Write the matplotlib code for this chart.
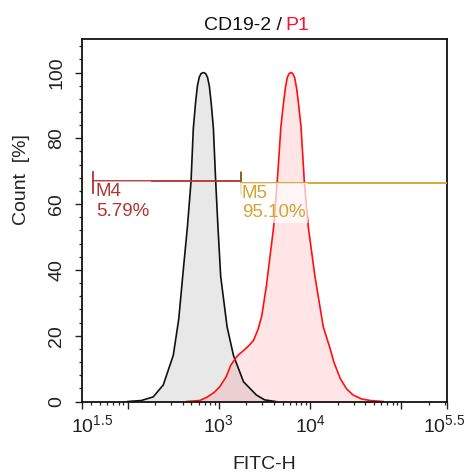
import numpy as np
import matplotlib
matplotlib.use("Agg")
import matplotlib.pyplot as plt
from matplotlib.ticker import FixedLocator, NullFormatter
import matplotlib.transforms as mtransforms

plt.rcParams['font.family'] = ['Liberation Sans', 'DejaVu Sans']
plt.rcParams['mathtext.fontset'] = 'custom'
plt.rcParams['mathtext.rm'] = 'Liberation Sans'
plt.rcParams['mathtext.it'] = 'Liberation Sans'
plt.rcParams['mathtext.bf'] = 'Liberation Sans'

# ---- data (log10 of FITC-H, count %) ----
gray_log10 = [2.00, 2.15, 2.28, 2.39, 2.50, 2.56, 2.61, 2.655, 2.695, 2.72, 2.745, 2.765,
              2.785, 2.805, 2.83, 2.855, 2.875, 2.895, 2.915, 2.94,
              2.965, 2.99, 3.02, 3.09, 3.16, 3.27, 3.41, 3.50, 3.62]
gray_count = [0, 0.3, 1.4, 5, 14, 25, 40, 53, 67, 83, 91, 96,
              98.6, 99.7, 100, 99.7, 98.6, 96, 91, 83,
              67, 53, 38, 22.7, 14, 6, 2, 0.5, 0]

red_log10 = [2.65, 2.79, 2.87, 2.95, 3.01, 3.08, 3.13, 3.20, 3.27, 3.33, 3.38, 3.43, 3.47,
             3.52, 3.56, 3.60, 3.64, 3.68, 3.705, 3.73, 3.75, 3.77, 3.79, 3.81, 3.83,
             3.853, 3.875, 3.90, 3.936,
             3.98, 4.053, 4.144, 4.22, 4.26, 4.33, 4.40, 4.47, 4.56, 4.66, 4.80]
red_count = [0, 0.3, 1.3, 2.8, 4.5, 7.5, 11, 13.8, 15.5, 17, 18.6, 22, 26,
             35, 44, 53, 67, 83.6, 90, 95.5, 98.5, 99.7, 100, 99.7, 98.5,
             95, 90, 83.6, 67,
             53, 38, 22.7, 16, 12, 7, 3.8, 2, 0.8, 0.3, 0]

m4_range = [42, 1750]
m4_level = 67.0
m4_label = "M4\n5.79%"
m5_range = [1750, 10 ** 5.5]
m5_level = 66.5
m5_label = "M5\n95.10%"

x_major_exp = [1.5, 2, 3, 4, 5, 5.5]
x_label_map = {1.5: r'$10^{1.5}$', 3: r'$10^{3}$', 4: r'$10^{4}$', 5.5: r'$10^{5.5}$'}
y_major = [0, 20, 40, 60, 80, 100]

W, H = 468, 472
fig = plt.figure(figsize=(W / 100, H / 100), dpi=100)
ax = fig.add_axes([82 / W, 1 - 401.5 / H, (447 - 82) / W, (401.5 - 39) / H])

gx = 10 ** np.array(gray_log10)
rx = 10 ** np.array(red_log10)
ax.fill_between(gx, gray_count, 0, color='#808080', alpha=0.18, linewidth=0, zorder=1)
ax.fill_between(rx, red_count, 0, color='#ff0000', alpha=0.10, linewidth=0, zorder=1)
ax.plot(gx, gray_count, color='#111111', linewidth=1.2, zorder=2)
ax.plot(rx, red_count, color='#ff1010', linewidth=1.2, zorder=2)

c4 = '#b03434'
c5 = '#d2a232'
ax.plot(m4_range, [m4_level, m4_level], color=c4, linewidth=1.3, zorder=3)
ax.plot(m5_range, [m5_level, m5_level], color=c5, linewidth=1.3, zorder=3)
ax.plot([m4_range[0]] * 2, [m4_level + 2.8, m4_level - 3.6], color=c4, linewidth=1.3, zorder=3)
ax.plot([m5_range[0]] * 2, [m5_level + 3.3, m5_level - 3.4], color=c5, linewidth=1.3, zorder=3)
ax.plot([m4_range[1]] * 2, [m4_level + 2.6, m4_level], color='#8a5a20', linewidth=1.3, zorder=3)

ax.text(m4_range[0] * 1.07, m4_level - 0.6, m4_label, color=c4, fontsize=13.5, va='top', ha='left',
        linespacing=1.2, zorder=4,
        bbox=dict(facecolor='white', alpha=0.55, edgecolor='none', pad=1.5))
ax.text(m5_range[0] * 1.02, m5_level - 0.6, m5_label, color=c5, fontsize=13.5, va='top', ha='left',
        linespacing=1.2, zorder=4,
        bbox=dict(facecolor='white', alpha=0.7, edgecolor='none', pad=1.5))

ax.set_xscale('log')
ax.set_xlim(10 ** 1.5, 10 ** 5.5)
ax.set_ylim(0, 110.2)

ax.xaxis.set_major_locator(FixedLocator([10 ** e for e in x_major_exp]))
ax.set_xticklabels([x_label_map.get(e, '') for e in x_major_exp])
minor = []
for d in range(1, 6):
    for m in range(2, 10):
        v = m * 10 ** d
        if 10 ** 1.5 < v < 10 ** 5.5:
            minor.append(v)
ax.xaxis.set_minor_locator(FixedLocator(minor))
ax.xaxis.set_minor_formatter(NullFormatter())

ax.yaxis.set_major_locator(FixedLocator(y_major))
ax.yaxis.set_minor_locator(FixedLocator([v for v in range(0, 110, 4) if v % 20 != 0]))

ax.tick_params(axis='both', which='major', direction='out', length=5, width=1.0, color='#222222',
               labelsize=14, labelcolor='#222222')
ax.tick_params(axis='both', which='minor', direction='out', length=2.5, width=0.9, color='#222222')
ax.tick_params(axis='x', which='major', pad=4)
ax.tick_params(axis='y', which='major', pad=7)
for lab in ax.get_yticklabels():
    lab.set_rotation(90)
    lab.set_va('center')
    lab.set_ha('right')

# shift first/last x tick labels
xt = ax.get_xticklabels()
offset = mtransforms.ScaledTranslation(10 / 100, 0, fig.dpi_scale_trans)
xt[0].set_transform(xt[0].get_transform() + offset)
offset2 = mtransforms.ScaledTranslation(-3 / 100, 0, fig.dpi_scale_trans)
xt[-1].set_transform(xt[-1].get_transform() + offset2)

for s in ax.spines.values():
    s.set_linewidth(1.3)
    s.set_color('#111111')

fig.text(282 / W, 1 - 30 / H, 'CD19-2 /', ha='right', va='baseline', fontsize=14, color='#111111')
fig.text(285.5 / W, 1 - 30 / H, 'P1', ha='left', va='baseline', fontsize=14, color='#ff1030')
fig.text(264 / W, 1 - 469 / H, 'FITC-H', ha='center', va='baseline', fontsize=14, color='#222222')
fig.text(22 / W, 1 - 180 / H, 'Count  [%]', ha='center', va='center', rotation=90, fontsize=14,
         color='#222222')

fig.savefig('out.png', dpi=100)
